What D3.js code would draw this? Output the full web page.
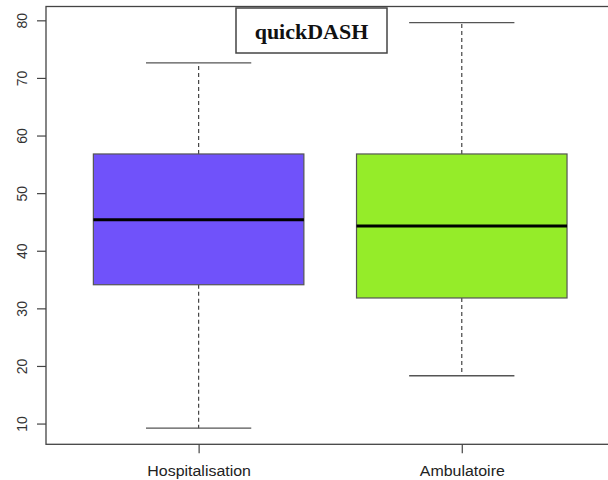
<!DOCTYPE html>
<html>
<head>
<meta charset="utf-8">
<script src="https://cdn.jsdelivr.net/npm/d3@7"></script>
<style>
  body { margin: 0; background: #fff; }
</style>
</head>
<body>
<svg id="chart"></svg>
<script>
// values
const groups = ["Hospitalisation", "Ambulatoire"];
const lowerWhisker = [9.2, 18.3];
const q1 = [34.1, 31.8];
const median = [45.4, 44.3];
const q3 = [56.8, 56.8];
const upperWhisker = [72.6, 79.6];
const boxColors = ["#7052fa", "#95ec29"];
const yTicks = [10, 20, 30, 40, 50, 60, 70, 80];
const title = "quickDASH";

const width = 608, height = 480;
const svg = d3.select("#chart").attr("width", width).attr("height", height);

// plot region (right edge of frame falls outside picture)
const plot = {left: 46, right: 614.4, top: 6.5, bottom: 444.3};

const y = d3.scaleLinear().domain([6.4, 82.4]).range([plot.bottom, plot.top]);
const x = d3.scaleLinear().domain([0.42, 2.58]).range([plot.left, plot.right]);
const boxwex = 0.8, capwex = 0.4;

const data = groups.map((g, i) => ({
    name: g, pos: i + 1,
    lo: lowerWhisker[i], q1: q1[i], med: median[i], q3: q3[i], hi: upperWhisker[i],
    color: boxColors[i]
}));

const boxes = svg.append("g").selectAll("g").data(data).join("g");

// whiskers, dashed
boxes.append("line")
    .attr("x1", d => x(d.pos)).attr("x2", d => x(d.pos))
    .attr("y1", d => y(d.q3)).attr("y2", d => y(d.hi))
    .attr("stroke", "#444").attr("stroke-width", 1.2).attr("stroke-dasharray", "4,3");
boxes.append("line")
    .attr("x1", d => x(d.pos)).attr("x2", d => x(d.pos))
    .attr("y1", d => y(d.q1)).attr("y2", d => y(d.lo))
    .attr("stroke", "#444").attr("stroke-width", 1.2).attr("stroke-dasharray", "4,3");

// caps
boxes.selectAll(".cap").data(d => [d.lo, d.hi].map(v => ({pos: d.pos, v: v}))).join("line")
    .attr("class", "cap")
    .attr("x1", d => x(d.pos - capwex / 2)).attr("x2", d => x(d.pos + capwex / 2))
    .attr("y1", d => y(d.v)).attr("y2", d => y(d.v))
    .attr("stroke", "#555").attr("stroke-width", 1.3);

// box
boxes.append("rect")
    .attr("x", d => x(d.pos - boxwex / 2))
    .attr("width", d => x(d.pos + boxwex / 2) - x(d.pos - boxwex / 2))
    .attr("y", d => y(d.q3))
    .attr("height", d => y(d.q1) - y(d.q3))
    .attr("fill", d => d.color)
    .attr("stroke", "#555").attr("stroke-width", 1.2);

// median
boxes.append("line")
    .attr("x1", d => x(d.pos - boxwex / 2)).attr("x2", d => x(d.pos + boxwex / 2))
    .attr("y1", d => y(d.med)).attr("y2", d => y(d.med))
    .attr("stroke", "#000").attr("stroke-width", 3);

// frame
svg.append("rect")
    .attr("x", plot.left).attr("y", plot.top)
    .attr("width", plot.right - plot.left).attr("height", plot.bottom - plot.top)
    .attr("fill", "none").attr("stroke", "#444").attr("stroke-width", 1.3);

// y axis, labels turned like R
const yAxis = svg.append("g")
    .attr("transform", `translate(${plot.left},0)`)
    .call(d3.axisLeft(y).tickValues(yTicks).tickSize(9).tickFormat(d3.format("d")));
yAxis.select(".domain").remove();
yAxis.selectAll(".tick line").attr("stroke", "#444").attr("stroke-width", 1.2);
yAxis.selectAll(".tick text")
    .attr("transform", "rotate(-90)")
    .attr("x", 0).attr("y", -19).attr("dy", 0)
    .attr("text-anchor", "middle")
    .attr("fill", "#333")
    .style("font-family", "Liberation Sans, Arial, sans-serif")
    .style("font-size", "14px");

// x axis
const xAxis = svg.append("g")
    .attr("transform", `translate(0,${plot.bottom})`)
    .call(d3.axisBottom(x).tickValues(data.map(d => d.pos)).tickSize(9)
        .tickFormat((d, i) => groups[i]));
xAxis.select(".domain").remove();
xAxis.selectAll(".tick line").attr("stroke", "#444").attr("stroke-width", 1.2);
xAxis.selectAll(".tick text")
    .attr("y", 0).attr("dy", 0)
    .attr("transform", "translate(0,32) scale(1.1,1)")
    .attr("fill", "#222")
    .style("font-family", "Liberation Sans, Arial, sans-serif")
    .style("font-size", "14.5px");

// title box
const tg = svg.append("g");
tg.append("rect")
    .attr("x", 236).attr("y", 8).attr("width", 151).attr("height", 45)
    .attr("fill", "#fff").attr("stroke", "#444").attr("stroke-width", 1.5);
tg.append("text")
    .attr("x", 311.5).attr("y", 39)
    .attr("text-anchor", "middle")
    .style("font-family", "Liberation Serif, 'Times New Roman', serif")
    .style("font-weight", "bold")
    .style("font-size", "22px")
    .attr("fill", "#111")
    .text(title);
</script>
</body>
</html>
